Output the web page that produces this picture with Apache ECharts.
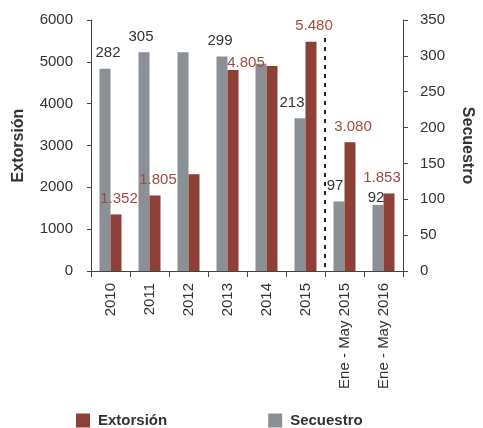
<!DOCTYPE html>
<html>
<head>
<meta charset="utf-8">
<script src="https://cdn.jsdelivr.net/npm/echarts@6/dist/echarts.min.js"></script>
<style>
  html, body { margin: 0; padding: 0; background: #fff; }
  #chart { width: 483px; height: 428px; }
</style>
</head>
<body>
<div id="chart"></div>
<script>
// Categories and values
const categories = ['2010', '2011', '2012', '2013', '2014', '2015', 'Ene - May 2015', 'Ene - May 2016'];
const extorsion = [1352, 1805, 2310, 4805, 4900, 5480, 3080, 1853];
const secuestro = [282, 305, 305, 299, 289, 213, 97, 92];
// Categories whose bars carry a value label
const extorsionLabelled = [0, 1, 3, 5, 6, 7];
const secuestroLabelled = [0, 1, 3, 5, 6, 7];
// Left / right axis ticks
const leftTicks = { min: 0, max: 6000, interval: 1000 };
const rightTicks = { min: 0, max: 350, interval: 50 };
// Position on the category scale where the partial-year comparison begins
const splitAt = 6;

const RED = '#8E3F37';
const GREY = '#8B9097';
const TEXT = '#333';
const FONT = '"Liberation Sans", Arial, sans-serif';

// Thousands separator in the Spanish style: 1.352
function fmt(v) {
  return String(v).replace(/\B(?=(\d{3})+(?!\d))/g, '.');
}

// Label nudges so neighbouring labels don't collide
const redOffsets = { 0: [3, 0], 1: [3, 0], 3: [13, 8], 5: [3, 0], 6: [3, 0], 7: [-7, 0] };
const greyOffsets = { 0: [3, 0], 1: [-3, 0], 3: [-2, 0], 5: [-8, 0], 6: [-4, 0], 7: [-2, 8] };

function buildData(values, labelled, offsets, color) {
  return values.map((v, i) => ({
    value: v,
    label: {
      show: labelled.indexOf(i) >= 0,
      position: 'top',
      distance: 8,
      offset: offsets[i] || [0, 0],
      color: color,
      fontSize: 15,
      fontFamily: FONT,
      formatter: () => fmt(v)
    }
  }));
}

const axisLine = { show: true, lineStyle: { color: '#444', width: 1 } };

const chart = echarts.init(document.getElementById('chart'));
chart.setOption({
  animation: false,
  backgroundColor: '#fff',
  grid: { left: 91, right: 70, top: 20, bottom: 157 },
  legend: {
    data: ['Extorsión', 'Secuestro'],
    left: 76,
    top: 413,
    padding: 0,
    itemWidth: 14,
    itemHeight: 14,
    itemGap: 101,
    icon: 'rect',
    textStyle: { color: TEXT, fontSize: 15, fontWeight: 'bold', fontFamily: FONT, padding: [0, 0, 0, 3] }
  },
  xAxis: [
    {
      type: 'category',
      data: categories,
      axisLine: axisLine,
      axisTick: { show: true, length: 6, lineStyle: { color: '#444' } },
      axisLabel: { rotate: 90, margin: 12, color: TEXT, fontSize: 15, fontFamily: FONT }
    },
    { type: 'value', min: 0, max: categories.length, show: false }
  ],
  yAxis: [
    {
      type: 'value',
      min: leftTicks.min, max: leftTicks.max, interval: leftTicks.interval,
      name: 'Extorsión',
      nameLocation: 'middle',
      nameRotate: 90,
      nameGap: 64,
      nameTextStyle: { color: TEXT, fontSize: 16, fontWeight: 'bold', fontFamily: FONT },
      axisLine: axisLine,
      axisTick: { show: true, length: 4, lineStyle: { color: '#444' } },
      axisLabel: { margin: 18, color: TEXT, fontSize: 15, fontFamily: FONT, formatter: v => String(v) },
      splitLine: { show: false }
    },
    {
      type: 'value',
      min: rightTicks.min, max: rightTicks.max, interval: rightTicks.interval,
      name: 'Secuestro',
      nameLocation: 'middle',
      nameRotate: -90,
      nameGap: 56,
      nameTextStyle: { color: TEXT, fontSize: 16, fontWeight: 'bold', fontFamily: FONT },
      axisLine: axisLine,
      axisTick: { show: true, length: 5, lineStyle: { color: '#444' } },
      axisLabel: { margin: 17, color: TEXT, fontSize: 15, fontFamily: FONT, formatter: v => String(v) },
      splitLine: { show: false }
    }
  ],
  series: [
    {
      name: 'Secuestro',
      type: 'bar',
      xAxisIndex: 0,
      yAxisIndex: 1,
      barWidth: 11,
      barGap: '0%',
      itemStyle: { color: GREY },
      data: buildData(secuestro, secuestroLabelled, greyOffsets, TEXT),
      z: 2
    },
    {
      name: 'Extorsión',
      type: 'bar',
      xAxisIndex: 0,
      yAxisIndex: 0,
      barWidth: 11,
      barGap: '0%',
      itemStyle: { color: RED },
      data: buildData(extorsion, extorsionLabelled, redOffsets, '#A04A41'),
      z: 2
    },
    {
      // dotted separator between full years and the Jan–May comparison
      type: 'line',
      xAxisIndex: 1,
      yAxisIndex: 1,
      data: [],
      silent: true,
      markLine: {
        silent: true,
        symbol: ['none', 'none'],
        label: { show: false },
        lineStyle: { color: '#222', width: 2, type: [4, 5] },
        data: [[{ coord: [splitAt, 325] }, { coord: [splitAt, 0] }]]
      }
    }
  ]
});
</script>
</body>
</html>
